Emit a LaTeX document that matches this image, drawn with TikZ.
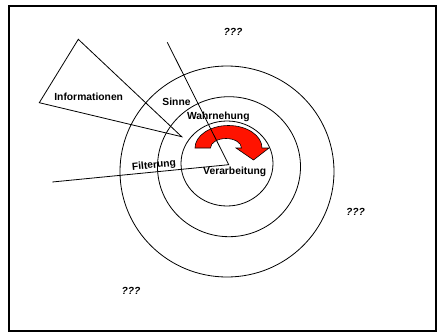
\documentclass[tikz,border=0pt]{standalone}
\usepackage{fontspec}
\setmainfont{Liberation Sans}
\usetikzlibrary{shapes.geometric}
\begin{document}
\begin{tikzpicture}[x=1pt,y=-1pt,
  lbl/.style={font=\fontsize{10.3}{12}\selectfont\bfseries, inner sep=0pt},
  qq/.style={font=\fontsize{10.3}{12}\selectfont\bfseries\itshape, inner sep=0pt},
  ring/.style={draw, line width=0.8pt},
  thin/.style={draw, line width=0.8pt}]
\useasboundingbox (0,0) rectangle (437,332);
\draw[line width=2pt] (9,6) rectangle (436,331);
% rings
\draw[ring] (227,171.5) ellipse [x radius=107, y radius=105.5];
\draw[ring] (229,166.7) ellipse [x radius=71.5, y radius=70];
\draw[ring] (227,163.5) ellipse [x radius=46, y radius=42.5];
% red arrow
\fill[red!85!orange, draw=black, line width=0.6pt]
  (195,148) arc[start angle=180, end angle=360, x radius=33.5, y radius=22.5]
  -- (269,148) -- (253.5,160) -- (236,148) -- (241.5,148)
  arc[start angle=360, end angle=180, x radius=15.5, y radius=9.5]
  -- cycle;
% triangle
\coordinate (t1) at (78.3,39.3);
\coordinate (t2) at (39.3,102.7);
\coordinate (t3) at (181.7,136.7);
\draw[thin, line join=miter] (t1) -- (t2) -- (t3) -- cycle;
% lines
\coordinate (m) at (228.7,164.7);
\coordinate (a) at (167.3,42.3);
\coordinate (b) at (52.3,182);
\draw[thin] (a) -- (m) -- (b);
% labels
\node[lbl] (inf) at (88.7,96.7) {Informationen};
\node[lbl] (sin) at (176.5,102) {Sinne};
\node[lbl] (wah) at (218.3,116.7) {Wahrnehung};
\node[lbl, rotate=5.6] (fil) at (154,165.5) {Filterung};
\node[lbl] (ver) at (234.7,171.7) {Verarbeitung};
\node[qq] (q1) at (233,32) {???};
\node[qq] (q2) at (355.5,211.7) {???};
\node[qq] (q3) at (131,291) {???};
\end{tikzpicture}
\end{document}
